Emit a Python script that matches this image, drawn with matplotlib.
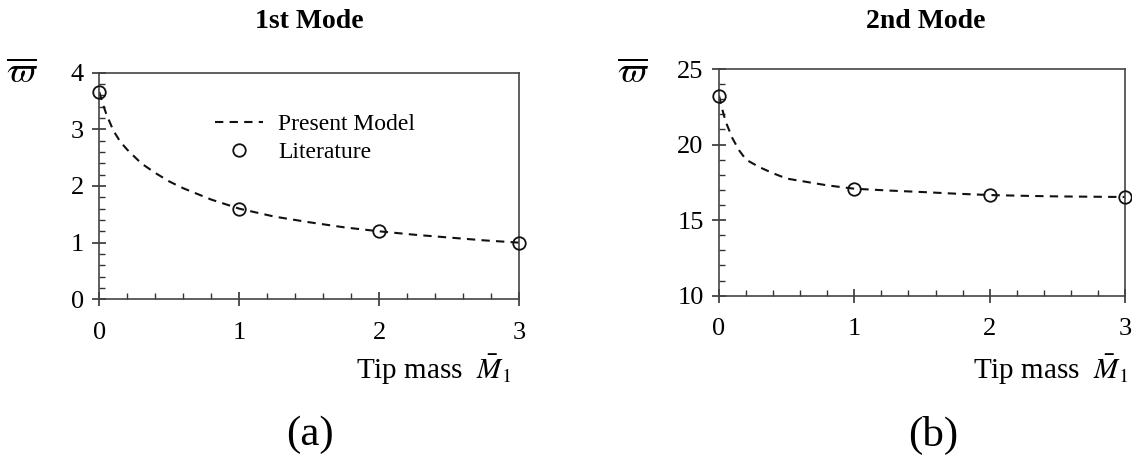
import matplotlib
matplotlib.use("Agg")
import matplotlib.pyplot as plt
from matplotlib.ticker import MultipleLocator

plt.rcParams['font.family'] = ['Liberation Serif', 'DejaVu Serif']
plt.rcParams['mathtext.fontset'] = 'stix'

# ---- data ----
x_curve = [0, 0.025, 0.05, 0.1, 0.15, 0.2, 0.3, 0.4, 0.5, 0.6, 0.8, 1.0,
           1.25, 1.5, 1.75, 2.0, 2.25, 2.5, 2.75, 3.0]
mode1_curve = [3.66, 3.45, 3.27, 2.98, 2.78, 2.64, 2.40, 2.23, 2.08, 1.96, 1.76, 1.60,
               1.46, 1.36, 1.27, 1.20, 1.14, 1.09, 1.04, 1.00]
mode2_curve = [23.24, 22.3, 21.5, 20.4, 19.6, 19.0, 18.5, 18.1, 17.75, 17.6, 17.3, 17.08,
               16.96, 16.86, 16.75, 16.66, 16.61, 16.57, 16.55, 16.53]

x_lit = [0, 1, 2, 3]
mode1_lit = [3.66, 1.60, 1.20, 1.00]
mode2_lit = [23.24, 17.08, 16.66, 16.53]

titles = ["1st Mode", "2nd Mode"]
panel_labels = ["(a)", "(b)"]
y_ranges = [(0, 4), (10, 25)]
y_major = [1, 5]
y_minor = [0.2, 1]

W, H = 1132, 462
fig = plt.figure(figsize=(W / 100, H / 100), dpi=100)

# axes boxes in pixels: left, right, top, bottom
boxes = [(99.3, 519.3, 72.7, 299.3), (719, 1125, 69, 295.7)]
curves = [mode1_curve, mode2_curve]
lits = [mode1_lit, mode2_lit]
xlabel_right = [511, 1128]
omega_x = [22, 633]
title_x = [309, 926]
panel_x = [310, 933]

col = '#111111'
for i in range(2):
    l, r, t, b = boxes[i]
    ax = fig.add_axes([l / W, 1 - b / H, (r - l) / W, (b - t) / H])
    line, = ax.plot(x_curve, curves[i], color=col, lw=1.5, dashes=(4, 3),
                    label='Present Model')
    pts, = ax.plot(x_lit, lits[i], 'o', mfc='none', mec=col, ms=9, mew=1.3,
                   clip_on=False, label='Literature', zorder=5)
    ax.set_xlim(0, 3)
    ax.set_ylim(*y_ranges[i])
    ax.xaxis.set_major_locator(MultipleLocator(1))
    ax.xaxis.set_minor_locator(MultipleLocator(0.2))
    ax.yaxis.set_major_locator(MultipleLocator(y_major[i]))
    ax.yaxis.set_minor_locator(MultipleLocator(y_minor[i]))
    ax.tick_params(which='major', direction='inout', length=10, width=1.2,
                   color='#333333', labelsize=19)
    ax.tick_params(which='minor', direction='in', length=4.5, width=1.0,
                   color='#333333')
    ax.tick_params(axis='x', which='major', pad=11)
    ax.tick_params(axis='y', which='major', pad=6)
    for s in ax.spines.values():
        s.set_linewidth(1.2)
        s.set_color('#444444')
    fig.text(title_x[i] / W, 1 - 22 / H, titles[i], fontsize=20,
             fontweight='bold', ha='center', va='center')
    fig.text(xlabel_right[i] / W, 1 - 370 / H, r'Tip mass  $\bar{M}_1$',
             fontsize=21, ha='right', va='center')
    fig.text(omega_x[i] / W, 1 - 74 / H, r'$\overline{\varpi}$',
             fontsize=26, ha='center', va='center')
    fig.text(panel_x[i] / W, 1 - 435 / H, panel_labels[i],
             fontsize=31, ha='center', va='center')
    if i == 0:
        ax.legend(handles=[line, pts], loc='upper left',
                  bbox_to_anchor=(0.226, 0.913), frameon=False, fontsize=17,
                  handlelength=2.0, handletextpad=0.65, labelspacing=0.28,
                  markerscale=1.0)

fig.savefig('out.png', dpi=100)
